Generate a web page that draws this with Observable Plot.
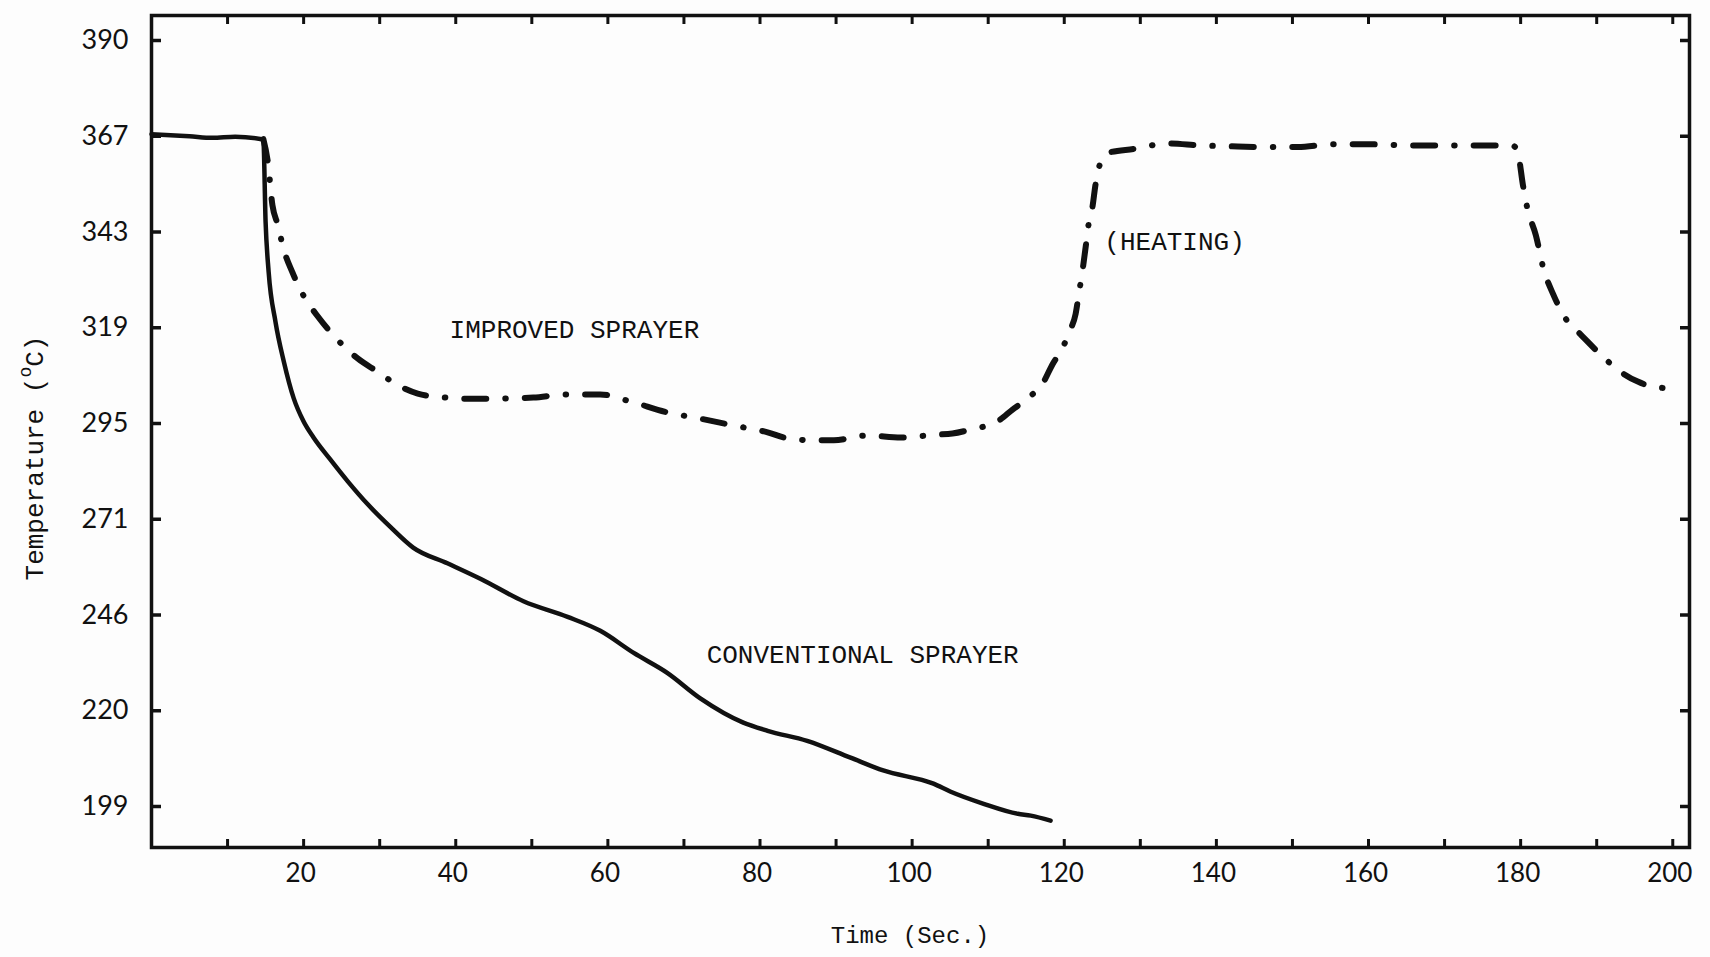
<!DOCTYPE html>
<html>
<head>
<meta charset="utf-8">
<script src="https://cdn.jsdelivr.net/npm/d3@7"></script>
<script src="https://cdn.jsdelivr.net/npm/@observablehq/plot@0.6"></script>
<style>
  html, body { margin: 0; padding: 0; background: #fdfdfd; overflow: hidden; }
  #chart svg { display: block; background: #fdfdfd; }
</style>
</head>
<body>
<div id="chart"></div>
<script>
// ---- data ----
const yTicks = [199, 220, 246, 271, 295, 319, 343, 367, 390];
const xMinorTicks = [10, 20, 30, 40, 50, 60, 70, 80, 90, 100, 110, 120, 130, 140, 150, 160, 170, 180, 190, 200];
const xLabelTicks = [20, 40, 60, 80, 100, 120, 140, 160, 180, 200];

const conventionalTime = [0, 5, 8, 11, 14.7, 15.0, 15.4, 16.3, 17.4, 18.7, 20.0, 21.3, 23.5, 25.8, 28.4, 31.4, 34.4, 38.9, 43.3, 48.9, 54.7, 59.0, 63.4, 67.8, 72.2, 77.8, 81.0, 86.2, 91.9, 96.2, 102.8, 105.0, 109.4, 113.9, 115.6, 118.2];
const conventionalTemp = [367.5, 367.0, 366.6, 366.9, 366.2, 345.5, 333.0, 320.5, 310.5, 301.3, 295.5, 291.5, 286.0, 280.5, 274.8, 269.0, 263.6, 259.5, 255.4, 249.6, 245.5, 241.7, 235.7, 230.3, 223.3, 217.4, 215.6, 213.4, 209.7, 206.9, 204.0, 202.3, 199.6, 197.4, 197.0, 195.9];

const improvedTime = [14.7, 15.3, 15.9, 16.6, 17.4, 18.5, 20.0, 22.0, 24.2, 27.1, 29.7, 32.3, 35.0, 38.7, 42.3, 50.2, 54.4, 59.0, 63.0, 67.8, 72.2, 76.5, 81.0, 83.6, 87.0, 89.7, 94.1, 98.5, 103.1, 105.3, 107.3, 111.6, 113.2, 115.2, 117.3, 118.5, 119.5, 120.8, 121.5, 121.9, 122.5, 122.9, 123.3, 123.7, 124.1, 124.8, 126.1, 129.1, 133.6, 137.9, 141.5, 146.2, 150.7, 155.4, 159.3, 166.6, 175.1, 179.1, 179.7, 180.3, 180.9, 182.0, 183.0, 184.3, 186.2, 187.9, 190.5, 193.1, 195.4, 198.0, 201.0];
const improvedTemp = [366.3, 360.5, 349.7, 344.8, 338.5, 333.0, 327.0, 321.5, 316.5, 311.3, 308.0, 304.7, 302.5, 301.5, 301.2, 301.5, 302.3, 302.3, 300.5, 297.8, 296.2, 294.5, 292.8, 291.3, 290.8, 290.8, 292.0, 291.5, 292.2, 292.5, 293.3, 296.0, 298.5, 301.3, 305.5, 310.0, 313.0, 318.5, 322.5, 327.3, 334.7, 340.5, 346.2, 349.2, 354.8, 360.5, 363.0, 363.8, 365.2, 364.7, 364.5, 364.3, 364.3, 365.0, 365.0, 364.7, 364.7, 364.5, 362.3, 354.8, 348.8, 342.2, 333.8, 327.3, 320.5, 317.3, 312.3, 308.0, 305.5, 304.0, 303.8];

const labelText = ["IMPROVED SPRAYER", "CONVENTIONAL SPRAYER", "(HEATING)"];
const labelTime = [55.6, 93.5, 134.5];
const labelTemp = [318.5, 235.2, 340.5];

// ---- tables ----
const conventional = conventionalTime.map((t, i) => ({t, v: conventionalTemp[i]}));
const improved = improvedTime.map((t, i) => ({t, v: improvedTemp[i]}));
const labels = labelText.map((s, i) => ({s, t: labelTime[i], v: labelTemp[i]}));

// ---- layout ----
const W = 1710, H = 957;
const ink = "#111";
const sans = "Lato, 'DejaVu Sans', sans-serif";
const mono = "'Liberation Mono', 'DejaVu Sans Mono', monospace";
const blank = () => "";

const plot = Plot.plot({
  width: W,
  height: H,
  marginTop: 15,
  marginBottom: 110,
  marginLeft: 151,
  marginRight: 21,
  style: {background: "#fdfdfd", color: ink},
  x: {type: "linear", domain: [0, 202.2], label: null},
  // evenly spaced (piecewise linear) temperature ticks, inset from the frame
  y: {type: "linear", domain: yTicks, insetTop: 25, insetBottom: 41, label: null},
  marks: [
    Plot.frame({stroke: ink, strokeWidth: 3.5}),
    Plot.axisX({anchor: "bottom", ticks: xMinorTicks, tickSize: -8, tickFormat: blank, strokeWidth: 3, label: null}),
    Plot.axisX({anchor: "top", ticks: xMinorTicks, tickSize: -8, tickFormat: blank, strokeWidth: 3, label: null}),
    Plot.axisX({anchor: "bottom", ticks: xLabelTicks, tickSize: 0, tickPadding: 16, dx: -3, fontSize: 26, fontFamily: sans, label: null}),
    Plot.axisY({anchor: "left", ticks: yTicks, tickSize: -10, tickFormat: blank, strokeWidth: 3.5, label: null}),
    Plot.axisY({anchor: "right", ticks: yTicks, tickSize: -10, tickFormat: blank, strokeWidth: 3.5, label: null}),
    Plot.axisY({anchor: "left", ticks: yTicks, tickSize: 0, tickPadding: 23, fontSize: 27, fontFamily: sans, label: null}),
    Plot.line(conventional, {x: "t", y: "v", stroke: ink, strokeWidth: 4.5, curve: "monotone-x", strokeLinejoin: "round", strokeLinecap: "round"}),
    Plot.line(improved, {x: "t", y: "v", stroke: ink, strokeWidth: 6, curve: "monotone-x", strokeDasharray: "22,19,0.5,19", strokeLinecap: "round"}),
    Plot.text(labels, {x: "t", y: "v", text: "s", fontSize: 26, fontFamily: mono, fill: ink, textAnchor: "middle"})
  ]
});

// axis titles
const svg = d3.select(plot);
svg.append("text")
  .attr("x", 910).attr("y", 937)
  .attr("text-anchor", "middle").attr("dominant-baseline", "middle")
  .attr("font-family", mono).attr("font-size", 24).attr("fill", ink)
  .text("Time (Sec.)");

const yt = svg.append("text")
  .attr("transform", "translate(36,458) rotate(-90)")
  .attr("text-anchor", "middle").attr("dominant-baseline", "middle")
  .attr("font-family", mono).attr("font-size", 26).attr("fill", ink);
yt.append("tspan").text("Temperature (");
yt.append("tspan").attr("dy", -10).attr("font-size", 18).text("o");
yt.append("tspan").attr("dy", 10).text("C)");

document.getElementById("chart").appendChild(plot);
</script>
</body>
</html>
